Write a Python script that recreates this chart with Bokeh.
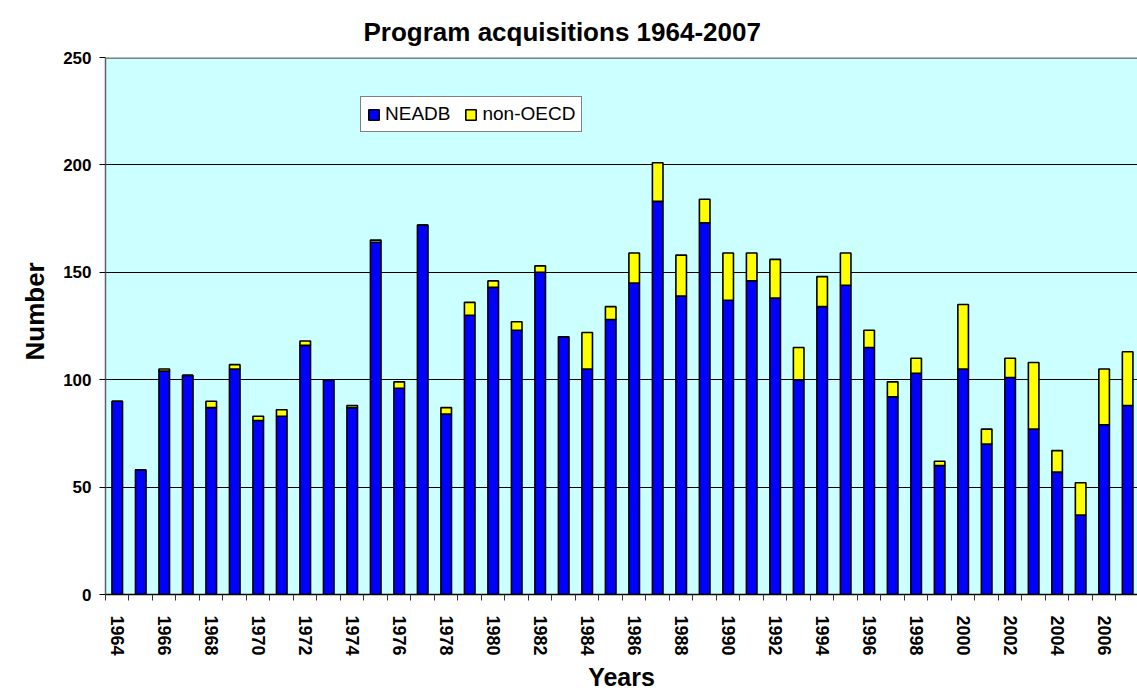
import math
from bokeh.plotting import figure
from bokeh.models import ColumnDataSource, Range1d, FixedTicker, Span, Title, Legend
from bokeh.embed import file_html
from bokeh.resources import INLINE

years = list(range(1964, 2008))
neadb = [90, 58, 104, 102, 87, 105, 81, 83, 116, 100, 87, 164, 96, 172, 84,
         130, 143, 123, 150, 120, 105, 128, 145, 183, 139, 173, 137, 146, 138,
         100, 134, 144, 115, 92, 103, 60, 105, 70, 101, 77, 57, 37, 79, 88]
non_oecd = [0, 0, 1, 0, 3, 2, 2, 3, 2, 0, 1, 1, 3, 0, 3,
            6, 3, 4, 3, 0, 17, 6, 14, 18, 19, 11, 22, 13, 18,
            15, 14, 15, 8, 7, 7, 2, 30, 7, 9, 31, 10, 15, 26, 25]
series_names = ["NEADB", "non-OECD"]
series_colors = ["#0000FF", "#FFFF00"]
y_ticks = [0, 50, 100, 150, 200, 250]
label_years = [y for y in years if y % 2 == 0]

FONT = "Liberation Sans"

source = ColumnDataSource(dict(year=years, neadb=neadb, non_oecd=non_oecd))

p = figure(width=1137, height=695, output_backend="svg", toolbar_location=None,
           x_range=Range1d(years[0] - 0.5, years[-1] + 0.42),
           y_range=Range1d(y_ticks[0], y_ticks[-1]),
           min_border_left=105, min_border_right=0, min_border_top=57,
           min_border_bottom=101)

p.background_fill_color = "#CCFFFF"
p.border_fill_color = "white"
p.outline_line_color = None

rs = p.vbar_stack(["neadb", "non_oecd"], x="year", width=0.45, source=source,
                  fill_color=series_colors, line_color="black", line_width=1.6)

# title
p.title.text = "Program acquisitions 1964-2007"
p.title.text_font = FONT
p.title.text_font_size = "26px"
p.title.text_font_style = "bold"
p.title.text_color = "black"
p.title.align = "left"
p.title.offset = 258
p.title.standoff = 22

# y axis
yax = p.yaxis[0]
yax.ticker = FixedTicker(ticks=y_ticks)
yax.major_label_text_font = FONT
yax.major_label_text_font_size = "17px"
yax.major_label_text_font_style = "bold"
yax.major_label_text_color = "black"
yax.axis_line_color = "#606060"
yax.axis_line_width = 1.5
yax.major_tick_line_color = "black"
yax.major_tick_out = 6
yax.major_tick_in = 0
yax.minor_tick_line_color = None
yax.major_label_standoff = 8

ylab = Title(text="Number", align="left", offset=234, text_font=FONT,
             text_font_size="26px", text_font_style="bold", text_color="black",
             standoff=22)
p.add_layout(ylab, "left")

# x axis
xax = p.xaxis[0]
xax.ticker = FixedTicker(ticks=label_years,
                         minor_ticks=[y - 0.5 for y in years] + [years[-1] + 0.5])
xax.major_tick_out = 0
xax.major_tick_in = 0
xax.minor_tick_out = 6
xax.minor_tick_in = 0
xax.minor_tick_line_color = "#333333"
xax.axis_line_color = "black"
xax.axis_line_width = 1.5
xax.major_label_orientation = -math.pi / 2
xax.major_label_text_font = FONT
xax.major_label_text_font_size = "18px"
xax.major_label_text_font_style = "bold"
xax.major_label_text_color = "black"
xax.major_label_standoff = 15
xax.axis_label = "Years"
xax.axis_label_text_font = FONT
xax.axis_label_text_font_size = "25px"
xax.axis_label_text_font_style = "bold"
xax.axis_label_text_color = "black"
xax.axis_label_standoff = 4

# grid
p.xgrid.grid_line_color = None
p.ygrid.ticker = FixedTicker(ticks=y_ticks[1:-1])
p.ygrid.grid_line_color = "black"
p.ygrid.grid_line_width = 1

p.add_layout(Span(location=y_ticks[-1], dimension="width",
                  line_color="#808080", line_width=3))

legend = Legend(items=[(series_names[0], [rs[0]]), (series_names[1], [rs[1]])],
                location=(255, 462), orientation="horizontal")
legend.label_text_font = FONT
legend.label_text_font_size = "19px"
legend.label_text_color = "black"
legend.glyph_width = 13
legend.glyph_height = 13
legend.label_standoff = 5
legend.spacing = 14
legend.padding = 6
legend.margin = 0
legend.border_line_color = "black"
legend.border_line_width = 1.2
legend.background_fill_color = "white"
legend.background_fill_alpha = 1
p.add_layout(legend, "center")

open("out.html", "w").write(file_html(p, INLINE))
